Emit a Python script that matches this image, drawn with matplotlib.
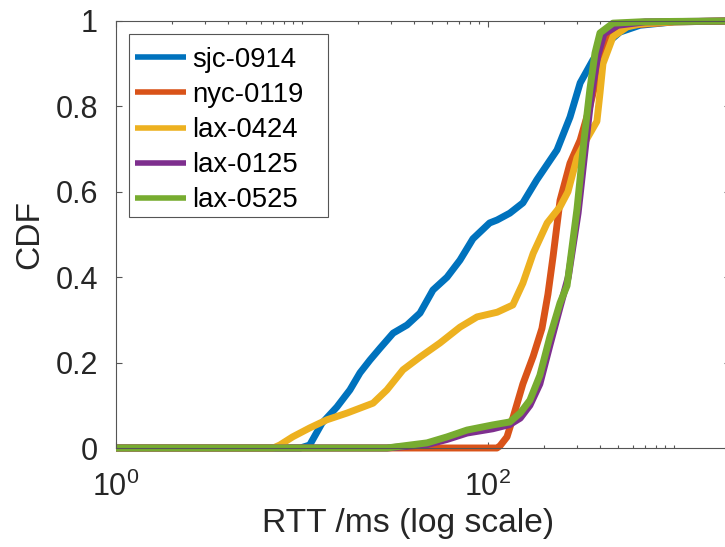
import matplotlib
matplotlib.use("Agg")
import matplotlib.pyplot as plt
import matplotlib.ticker as mticker
from matplotlib.patches import Rectangle
import numpy as np

plt.rcParams['font.family'] = ['Liberation Sans', 'DejaVu Sans']
plt.rcParams['mathtext.default'] = 'regular'

# CDF of RTT per trace (x in ms, y cumulative fraction)
labels = ['sjc-0914', 'nyc-0119', 'lax-0424', 'lax-0125', 'lax-0525']
colors = ['#0072BD', '#D95319', '#EDB120', '#7E2F8E', '#77AC30']

sjc_x = [1, 9.8, 11.0, 12.8, 15.4, 18.1, 20.5, 23.2, 26.3, 30.9, 36.7, 43.1, 50.6, 60.2,
         70.7, 83.0, 102, 112, 131, 154, 183, 235, 276, 313, 367, 436, 512, 656, 1000, 2000]
sjc_y = [0, 0, 0.007, 0.058, 0.096, 0.136, 0.176, 0.206, 0.234, 0.269, 0.288, 0.316, 0.37, 0.40,
         0.44, 0.49, 0.527, 0.534, 0.55, 0.574, 0.628, 0.698, 0.775, 0.855, 0.909, 0.948, 0.974,
         0.99, 0.998, 1]

nyc_x = [1, 111.7, 116, 126.5, 136, 154, 175, 195, 210, 224, 244, 276, 313, 353, 385, 415,
         470, 580, 1000, 2000]
nyc_y = [0, 0, 0.005, 0.026, 0.07, 0.15, 0.215, 0.28, 0.36, 0.45, 0.58, 0.667, 0.721, 0.80,
         0.869, 0.939, 0.974, 0.99, 0.998, 1]

lax0424_x = [1, 7.0, 7.6, 8.9, 11.0, 13.6, 17.5, 24.1, 28.6, 34.9, 43.1, 55.2, 70.7, 87.3,
             112, 136, 154, 175, 208, 244, 269, 301, 341, 385, 400, 415, 470, 559, 656, 1000, 2000]
lax0424_y = [0, 0, 0.007, 0.026, 0.047, 0.066, 0.082, 0.105, 0.136, 0.183, 0.213, 0.246, 0.283,
             0.307, 0.318, 0.335, 0.386, 0.456, 0.527, 0.565, 0.6, 0.68, 0.725, 0.765, 0.831,
             0.90, 0.963, 0.986, 0.993, 0.998, 1]

lax0125_x = [1, 28.6, 47, 60.2, 77.1, 106, 131, 149, 168, 190, 215, 244, 270, 305, 335, 360,
             390, 420, 500, 700, 2000]
lax0125_y = [0, 0, 0.008, 0.02, 0.035, 0.045, 0.055, 0.07, 0.1, 0.15, 0.24, 0.33, 0.40, 0.55,
             0.71, 0.83, 0.92, 0.97, 0.99, 0.998, 1]

lax0525_x = [1, 28.6, 47, 60.2, 77.1, 106, 131, 149, 168, 190, 215, 244, 266, 301, 328, 353,
             376, 400, 470, 656, 1000, 2000]
lax0525_y = [0, 0, 0.012, 0.026, 0.042, 0.054, 0.061, 0.082, 0.112, 0.17, 0.26, 0.34, 0.38,
             0.56, 0.72, 0.84, 0.925, 0.972, 0.995, 0.998, 0.999, 1]

series = [(sjc_x, sjc_y), (nyc_x, nyc_y), (lax0424_x, lax0424_y),
          (lax0125_x, lax0125_y), (lax0525_x, lax0525_y)]

fig = plt.figure(figsize=(7.25, 5.47), dpi=100)
W, H = 725, 547
ax = fig.add_axes([116 / W, (H - 448) / H, (730 - 116) / W, (448 - 21) / H])

for (x, y), c, lab in zip(series, colors, labels):
    ax.plot(x, y, color=c, lw=5, label=lab, clip_on=False,
            solid_capstyle='butt', solid_joinstyle='round')

ax.set_xscale('log')
ax.set_xlim(1, 2000)
ax.set_ylim(0, 1)

ax.xaxis.set_major_locator(mticker.FixedLocator([1, 100]))
ax.xaxis.set_major_formatter(mticker.FixedFormatter(['$10^{0}$', '$10^{2}$']))
ax.xaxis.set_minor_locator(mticker.LogLocator(base=10, subs=np.arange(1, 10), numticks=20))
ax.xaxis.set_minor_formatter(mticker.NullFormatter())
ax.set_yticks([0, 0.2, 0.4, 0.6, 0.8, 1])
ax.set_yticklabels(['0', '0.2', '0.4', '0.6', '0.8', '1'])

axcol = '#262626'
ax.tick_params(which='both', direction='in', top=True, right=True, color='#555555',
               width=0.8, labelsize=22, labelcolor=axcol)
ax.tick_params(which='major', length=4.3)
ax.tick_params(which='minor', length=2.2)
ax.tick_params(axis='y', pad=13)
ax.tick_params(axis='x', pad=17)
for s in ax.spines.values():
    s.set_color('#555555')
    s.set_linewidth(0.8)

ax.set_xlabel('RTT /ms (log scale)', fontsize=24.2, color=axcol)
ax.set_ylabel('CDF', fontsize=24.2, color=axcol)
ax.xaxis.set_label_coords((408 - 116) / 614, -(508 - 448) / 427)
ax.yaxis.set_label_coords((45 - 116) / 614, 0.5)

# legend box drawn like MATLAB's (wider on the right)
ax.add_patch(Rectangle((13 / 614, (448 - 217) / 427), 199 / 614, 183 / 427,
                       transform=ax.transAxes, facecolor='white', edgecolor='#555555',
                       lw=0.8, zorder=5))
leg = ax.legend(loc='upper left', bbox_to_anchor=((135 - 116) / 614, (448 - 47) / 427),
                frameon=False, fontsize=19.8, handlelength=1.85, handletextpad=0.22,
                labelspacing=0.33, borderpad=0, borderaxespad=0)
leg.set_zorder(6)
for h in leg.get_lines():
    h.set_linewidth(4)
for t in leg.get_texts():
    t.set_color('black')

fig.savefig('out.png', dpi=100)
